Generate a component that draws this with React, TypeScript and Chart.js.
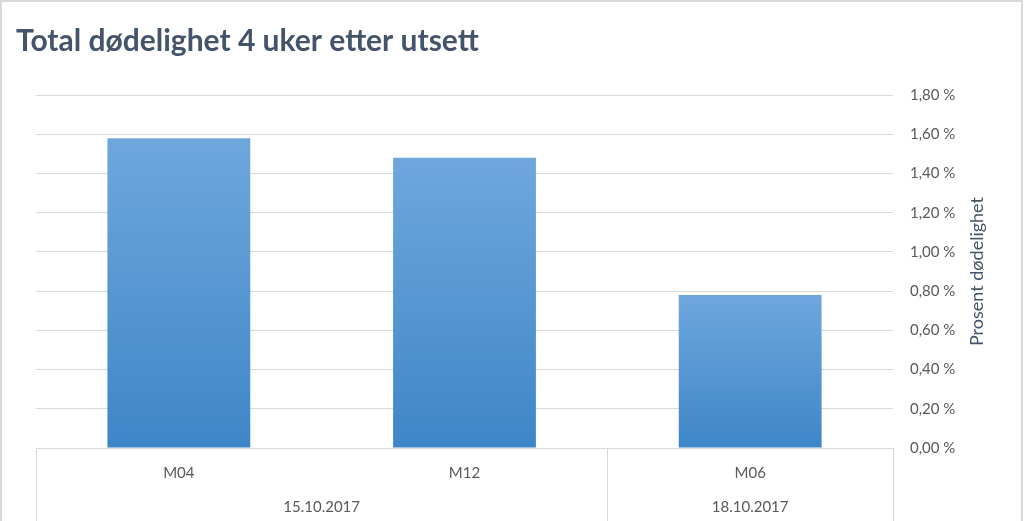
import React, { useEffect, useRef } from "react";
import { Chart, registerables } from "chart.js";

Chart.register(...registerables);

const TITLE = "Total dødelighet 4 uker etter utsett";
const Y_TITLE = "Prosent dødelighet";
const CATEGORIES = ["M04", "M12", "M06"];
const VALUES = [1.58, 1.48, 0.78];
const DATE_LABELS = ["15.10.2017", "18.10.2017"];
const DATE_POSITIONS = [0.5, 2];
const GROUP_BOUNDARIES = [-0.5, 1.5, 2.5];
const Y_MIN = 0;
const Y_MAX = 1.8;
const Y_STEP = 0.2;

const FONT = "Lato, 'Open Sans', sans-serif";
const TEXT = "#595959";
const GRID = "#d9d9d9";

const framePlugin = {
  id: "frame",
  beforeDraw(chart: any) {
    const c = chart.ctx;
    c.save();
    c.fillStyle = "#ffffff";
    c.fillRect(0, 0, chart.width, chart.height);
    c.strokeStyle = GRID;
    c.lineWidth = 2;
    c.strokeRect(1, 1, chart.width - 3, chart.height + 20);
    c.restore();
  },
  afterDraw(chart: any) {
    const c = chart.ctx;
    const area = chart.chartArea;
    const xs = chart.scales.x;
    c.save();
    c.strokeStyle = GRID;
    c.lineWidth = 1;
    GROUP_BOUNDARIES.forEach((b) => {
      const px = Math.round(xs.getPixelForValue(b)) + 0.5;
      c.beginPath();
      c.moveTo(px, area.bottom);
      c.lineTo(px, chart.height);
      c.stroke();
    });
    // rotated y-axis title (reads bottom to top)
    c.fillStyle = "#44546a";
    c.font = `18px ${FONT}`;
    c.textAlign = "center";
    c.textBaseline = "middle";
    c.translate(977, (area.top + area.bottom) / 2);
    c.rotate(-Math.PI / 2);
    c.fillText(Y_TITLE, 0, 0);
    c.restore();
  },
};

export default function App() {
  const ref = useRef<HTMLCanvasElement | null>(null);
  useEffect(() => {
    if (!ref.current) return;
    const chart = new Chart(ref.current, {
      type: "bar",
      data: {
        labels: CATEGORIES,
        datasets: [
          {
            data: VALUES,
            xAxisID: "x",
            yAxisID: "y",
            categoryPercentage: 1,
            barPercentage: 0.5,
            borderWidth: 0,
            backgroundColor: (ctx: any) => {
              const ch = ctx.chart;
              const area = ch.chartArea;
              if (!area || !ctx.parsed) return "#5b9bd5";
              const top = ch.scales.y.getPixelForValue(ctx.parsed.y);
              const g = ch.ctx.createLinearGradient(0, top, 0, area.bottom);
              g.addColorStop(0, "#6fa7dd");
              g.addColorStop(1, "#3e86c8");
              return g;
            },
          },
        ],
      },
      options: {
        responsive: false,
        animation: false,
        layout: { padding: { left: 16, right: 0, top: 0, bottom: 5 } },
        plugins: {
          legend: { display: false },
          tooltip: { enabled: false },
          title: {
            display: true,
            text: TITLE,
            align: "start",
            color: "#44546a",
            font: { family: FONT, size: 30, weight: "bold" },
            padding: { top: 23, bottom: 36 },
          },
        },
        scales: {
          yl: {
            type: "linear",
            position: "left",
            display: true,
            grid: { display: false },
            border: { display: false },
            ticks: { display: false },
            afterFit: (s: any) => {
              s.width = 20;
            },
          },
          x: {
            type: "category",
            position: "bottom",
            weight: 0,
            grid: { display: false, drawTicks: false },
            border: { display: true, color: GRID, width: 1 },
            ticks: {
              color: TEXT,
              font: { family: FONT, size: 15 },
              padding: 16,
              maxRotation: 0,
            },
            afterFit: (s: any) => {
              s.height = 34;
            },
          },
          x2: {
            type: "linear",
            position: "bottom",
            weight: 1,
            min: -0.5,
            max: 2.5,
            offset: false,
            bounds: "data",
            grid: { display: false, drawTicks: false, offset: false },
            border: { display: false },
            afterBuildTicks: (s: any) => {
              s.ticks = DATE_POSITIONS.map((v) => ({ value: v }));
            },
            ticks: {
              color: TEXT,
              font: { family: FONT, size: 15 },
              padding: 16,
              autoSkip: false,
              maxRotation: 0,
              callback: (v: any) => {
                const i = DATE_POSITIONS.indexOf(Number(v));
                return i >= 0 ? DATE_LABELS[i] : "";
              },
            },
            afterFit: (s: any) => {
              s.height = 34;
            },
          },
          y: {
            type: "linear",
            position: "right",
            min: Y_MIN,
            max: Y_MAX,
            grid: { color: GRID, drawTicks: false },
            border: { display: false },
            ticks: {
              stepSize: Y_STEP,
              color: TEXT,
              font: { family: FONT, size: 15 },
              padding: 17,
              callback: (v: any) => Number(v).toFixed(2).replace(".", ",") + " %",
            },
            afterFit: (s: any) => {
              s.width = 131;
            },
          },
        },
      },
      plugins: [framePlugin],
    } as any);
    return () => chart.destroy();
  }, []);
  return (
    <div style={{ position: "fixed", left: 0, top: 0, width: 1024, height: 521 }}>
      <canvas ref={ref} width={1024} height={521} style={{ display: "block" }} />
    </div>
  );
}
